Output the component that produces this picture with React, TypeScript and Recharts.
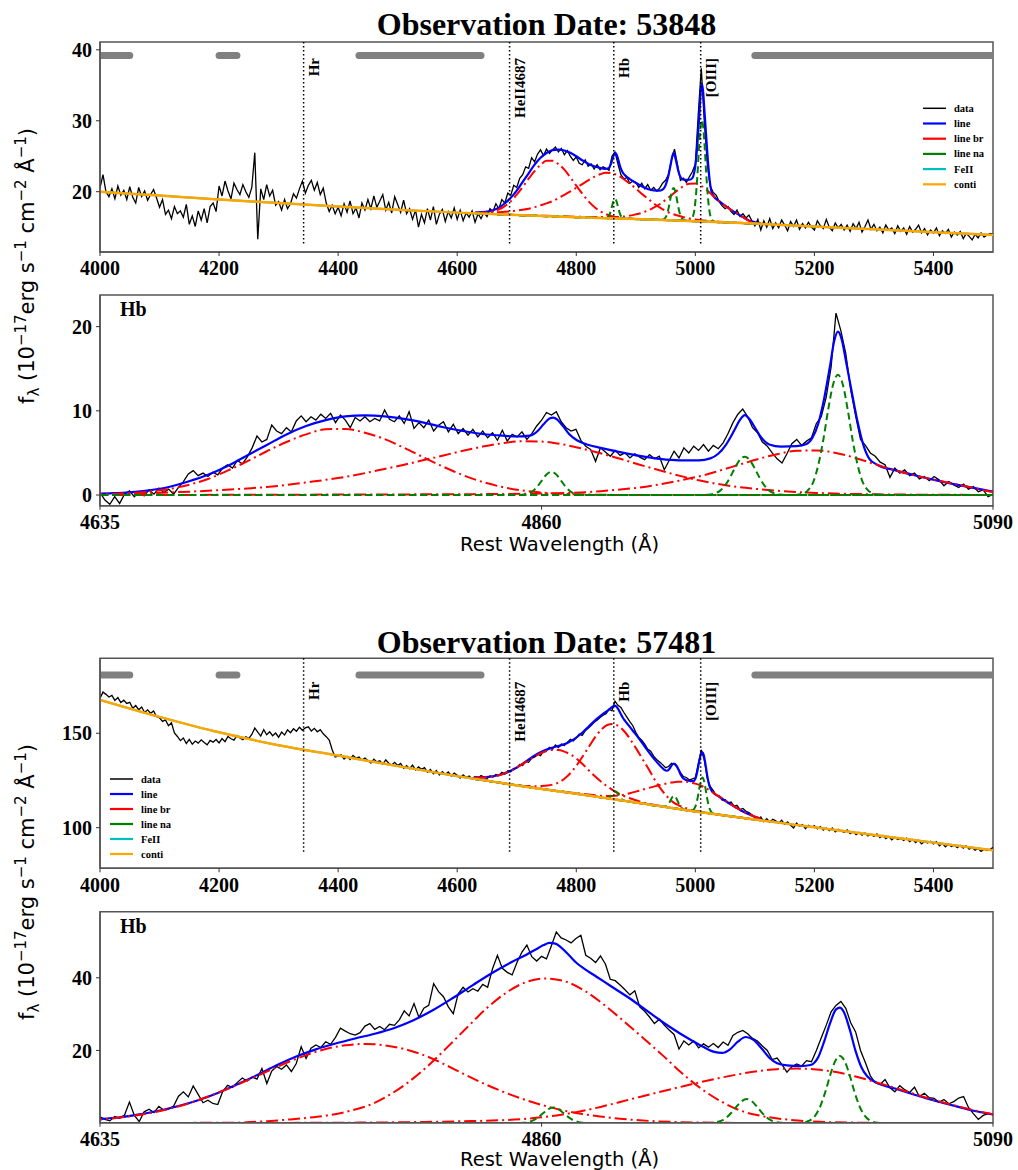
import React from 'react';
import { LineChart, Line, XAxis, YAxis, ReferenceLine, ReferenceArea } from 'recharts';

const SERIF = '"Liberation Serif", "Times New Roman", serif';
const SANS = '"DejaVu Sans", sans-serif';
const SPINE = '#555555';

// ---------------- wavelength grids / ticks ----------------
const FULL_START = 4000;
const FULL_STEP = 5;
const ZOOM_START = 4635;
const ZOOM_STEP = 2.5;
const fullTicks = [4000, 4200, 4400, 4600, 4800, 5000, 5200, 5400];
const zoomTicks = [4635, 4860, 5090];
const ticks53848 = [20, 30, 40];
const ticksLine53848 = [0, 10, 20];
const ticks57481 = [100, 150];
const ticksLine57481 = [20, 40];

// continuum windows (grey bars) and line markers
const contiWindows = [[4000, 4050], [4200, 4230], [4435, 4640], [5100, 5500]];
const lineMarkers = [4342, 4688, 4863, 5009];
const lineMarkerNames = ['Hr', 'HeII4687', 'Hb', '[OIII]'];

// ---------------- continuum ----------------
const contiWave = [4000, 4100, 4200, 4300, 4400, 4500, 4600, 4700, 4800, 4900, 5000, 5100, 5200, 5300, 5400, 5500];
const conti53848 = [20.0, 19.45, 18.9, 18.4, 17.9, 17.45, 17.05, 16.7, 16.4, 16.15, 15.85, 15.5, 15.1, 14.7, 14.3, 13.9];
const conti57481 = [167.7, 158.7, 150.5, 143.7, 138.2, 132.6, 127.3, 122.4, 118.0, 113.3, 108.6, 104.3, 100.2, 96.1, 92.1, 88.0];

// ---------------- observed spectra (4000-5500, step 5) ----------------
const flux53848 = [
  20.5, 22.4, 20.0, 19.3, 20.4, 19.0, 20.8, 19.5, 20.2, 18.9,
  20.7, 19.2, 18.4, 20.6, 19.3, 20.1, 18.8, 19.6, 20.3, 19.1,
  17.8, 18.9, 16.8, 17.4, 16.2, 17.9, 16.9, 17.3, 16.4, 18.2,
  15.4, 16.6, 15.1, 17.3, 16.0, 17.6, 15.6, 17.9, 18.4, 17.2,
  20.8, 19.4, 21.5, 20.1, 19.0, 21.2, 20.3, 19.6, 21.0, 20.0,
  19.2, 20.6, 25.5, 13.3, 20.4, 18.9, 21.0, 19.4, 20.2, 18.1,
  18.6, 17.4, 18.9, 17.6, 18.3, 19.7, 19.1, 20.4, 21.5, 19.8,
  20.9, 21.6, 20.2, 21.3, 19.6, 20.5, 18.4, 17.2, 18.1, 16.9,
  17.8, 16.6, 18.3, 17.1, 18.7, 16.9, 17.7, 16.3, 18.4, 17.4,
  18.9, 17.6, 19.4, 17.8, 18.7, 19.6, 17.4, 18.5, 17.0, 19.3,
  18.2, 17.1, 18.8, 16.9, 17.6, 16.1, 17.4, 15.0, 16.8, 15.6,
  17.6, 16.0, 17.9, 15.4, 16.8, 17.5, 15.8, 17.2, 16.3, 17.7,
  16.1, 17.4, 15.9, 17.0, 16.4, 17.3, 15.7, 16.9, 16.2, 17.1,
  16.5, 17.6, 17.2, 18.3, 17.6, 18.9, 18.4, 19.8, 19.5, 20.9,
  20.6, 21.9, 22.4, 23.5, 23.3, 24.8, 24.2, 25.3, 25.9, 25.1,
  26.0, 25.4, 25.9, 26.3, 25.6, 26.1, 25.2, 25.8, 25.0, 24.4,
  24.9, 24.0, 23.8, 24.5, 23.6, 23.9, 23.2, 23.8, 23.1, 23.5,
  23.3, 23.0, 25.0, 25.6, 23.9, 22.4, 21.8, 22.0, 21.2, 21.5,
  21.3, 20.6, 21.2, 20.4, 21.0, 20.2, 20.6, 20.1, 20.5, 21.2,
  21.6, 22.4, 24.5, 26.0, 23.8, 21.6, 21.9, 21.3, 22.1, 22.8,
  23.9, 31.0, 37.4, 30.0, 24.0, 20.8, 19.9, 19.5, 18.6, 18.0,
  17.6, 17.9, 17.2, 16.8, 17.4, 16.5, 16.9, 16.3, 16.7, 15.9,
  15.2, 16.1, 14.6, 15.9, 15.0, 16.2, 14.8, 15.6, 14.9, 16.0,
  15.3, 14.5, 15.8, 15.1, 16.0, 14.7, 15.5, 14.9, 15.7, 15.0,
  14.6, 15.9, 15.2, 14.8, 16.1, 15.0, 14.5, 15.6, 14.9, 15.4,
  14.6, 15.3, 14.4, 15.5, 14.8, 15.7, 14.3, 15.1, 16.0, 14.7,
  15.4, 14.5, 15.0, 14.2, 15.3, 14.6, 14.9, 14.1, 15.2, 14.4,
  14.9, 14.0, 15.1, 14.3, 14.7, 15.3, 14.2, 14.8, 13.9, 14.6,
  14.2, 14.9, 13.8, 14.5, 14.1, 14.7, 13.6, 14.3, 13.9, 14.4,
  13.4, 14.1, 13.7, 13.2, 14.0, 13.5, 14.2, 13.6, 13.9, 14.1,
  14.0,
];

const flux57481 = [
  168.5, 171.8, 170.6, 169.2, 170.1, 167.4, 168.9, 166.3, 167.5, 165.8,
  166.4, 163.2, 164.7, 162.5, 163.9, 161.0, 162.4, 160.6, 161.8, 158.9,
  158.2, 156.3, 157.1, 154.0, 155.6, 150.2, 148.3, 146.1, 147.5, 144.6,
  146.8, 144.2, 145.9, 144.8, 146.5, 145.1, 143.9, 146.2, 145.3, 146.7,
  144.9, 147.2, 145.6, 148.3, 147.1, 146.4, 148.8, 147.5, 146.6, 148.1,
  147.3, 149.4, 152.8, 150.6, 148.5, 151.9, 149.2, 150.8, 148.7, 150.1,
  147.9, 150.6, 149.1, 151.8, 150.3, 152.4, 151.1, 153.2, 151.6, 152.9,
  153.4, 151.2, 152.6, 150.8, 151.9, 149.7, 148.2, 146.4, 141.3, 137.5,
  137.9, 138.6, 136.4, 137.8, 136.1, 138.3, 136.9, 137.4, 135.8, 136.9,
  135.6, 134.2, 136.3, 134.8, 135.4, 133.6, 135.9, 134.1, 133.2, 134.6,
  132.9, 134.0, 131.5, 132.8, 131.2, 133.1, 130.6, 132.2, 130.9, 131.8,
  129.4, 130.8, 128.6, 130.3, 127.9, 129.7, 128.2, 129.5, 127.4, 128.9,
  127.8, 126.3, 128.0, 126.6, 127.4, 125.9, 127.1, 126.2, 127.6, 126.8,
  126.1, 127.4, 126.8, 128.2, 127.5, 129.3, 128.4, 130.2, 129.6, 131.4,
  131.6, 133.5, 133.0, 135.1, 134.6, 136.8, 137.4, 138.9, 138.2, 140.7,
  140.9, 142.6, 141.5, 143.8, 142.4, 144.3, 143.6, 145.2, 146.8, 145.9,
  147.4, 149.6, 148.9, 151.3, 152.6, 154.1, 155.8, 156.9, 158.3, 159.6,
  160.4, 162.7, 161.9, 167.0, 164.8, 163.7, 161.0, 158.6, 156.2, 154.0,
  150.5, 147.8, 146.3, 144.2, 141.6, 140.5, 137.9, 136.1, 134.8, 133.4,
  131.8, 132.4, 134.1, 133.5, 132.0, 129.2, 127.1, 126.6, 125.3, 125.8,
  126.4, 133.8, 141.2, 135.9, 126.4, 121.9, 119.8, 117.2, 116.9, 114.6,
  114.8, 113.2, 113.6, 111.4, 111.9, 109.6, 110.2, 108.7, 108.0, 106.9,
  105.4, 104.1, 105.6, 103.2, 104.8, 102.9, 104.5, 103.6, 102.4, 104.0,
  101.8, 103.1, 101.3, 99.9, 102.4, 100.8, 101.6, 99.5, 101.2, 100.3,
  101.0, 99.4, 100.6, 98.7, 99.8, 98.4, 99.9, 97.8, 99.1, 98.2,
  97.6, 98.8, 96.9, 97.9, 96.3, 97.5, 96.1, 97.2, 95.6, 96.5,
  95.4, 96.7, 94.8, 95.9, 94.2, 95.3, 93.6, 94.9, 93.8, 94.4,
  93.2, 94.5, 92.6, 93.8, 92.1, 93.3, 91.4, 92.7, 91.9, 92.8,
  91.4, 92.6, 90.4, 91.7, 89.9, 91.2, 90.1, 90.8, 89.4, 90.6,
  89.2, 90.4, 88.6, 89.5, 88.1, 89.0, 87.4, 88.6, 87.9, 88.5,
  89.5,
];

// ---------------- continuum-subtracted spectra (4635-5090, step 2.5) ----------------
const lineFlux53848 = [
  0.3, -0.6, -1.1, -0.2, -1.0, 0.1, 0.5, -0.2, 0.4, -0.1,
  0.6, 0.1, 0.8, 0.3, 0.7, 0.1, 0.9, 1.6, 2.5, 2.9,
  2.3, 2.6, 2.2, 2.7, 2.4, 3.2, 3.6, 3.2, 4.1, 3.7,
  4.5, 5.6, 7.0, 6.3, 6.6, 8.3, 7.6, 7.3, 8.0, 7.5,
  8.8, 9.4, 8.7, 9.3, 8.9, 9.6, 9.1, 9.7, 8.6, 9.5,
  8.9, 8.0, 9.2, 8.8, 9.3, 8.7, 9.1, 8.8, 10.1, 9.0,
  8.7, 9.4, 8.5, 9.9, 7.9, 8.6, 8.0, 8.9, 7.6, 8.3,
  8.7, 7.5, 8.4, 7.3, 7.9, 7.1, 7.8, 6.9, 7.6, 6.8,
  7.4, 6.5, 7.7, 6.4, 7.2, 6.9, 7.5, 6.6, 7.3, 8.2,
  8.9, 9.8, 9.5, 9.9, 8.7, 8.0, 7.6, 7.8, 6.5, 5.8,
  5.4, 4.0, 5.6, 5.1, 4.6, 5.3, 4.7, 5.0, 4.4, 4.9,
  4.5, 4.2, 4.8, 4.3, 4.6, 3.0, 4.1, 5.2, 4.4, 5.6,
  5.0, 5.8, 5.3, 6.0, 5.2, 5.9, 5.5, 6.2, 7.3, 8.6,
  9.6, 10.2, 9.3, 8.0, 7.4, 6.3, 5.8, 5.0, 4.3, 3.8,
  4.9, 6.1, 6.6, 5.9, 6.4, 6.8, 8.5, 9.3, 11.6, 15.2,
  21.6, 19.5, 16.8, 12.5, 9.4, 6.6, 5.9, 5.0, 4.6, 3.9,
  3.6, 2.1, 3.2, 2.6, 3.0, 2.3, 2.6, 1.9, 2.2, 1.7,
  2.2, 1.8, 1.1, 1.6, 1.2, 0.9, 1.3, 0.7, 1.0, 0.4,
  0.6, -0.2, 0.1,
];

const lineFlux57481 = [
  1.7, 1.0, 0.6, 1.8, 1.3, 2.2, 5.8, 2.1, 0.4, 3.1,
  3.8, 2.9, 4.6, 3.5, 3.9, 4.7, 7.4, 8.6, 7.2, 10.2,
  7.9, 5.6, 6.3, 5.4, 5.1, 8.7, 10.4, 9.8, 11.2, 12.4,
  11.6, 12.7, 12.1, 15.0, 10.9, 14.3, 15.6, 14.8, 16.0, 14.2,
  16.4, 21.0, 17.8, 20.6, 21.5, 20.8, 22.4, 21.7, 23.6, 26.1,
  25.3, 24.6, 24.2, 24.9, 26.7, 27.4, 25.8, 26.6, 25.7, 27.2,
  26.9, 28.4, 30.9, 29.5, 32.9, 29.1, 31.6, 32.4, 38.4, 36.2,
  34.8, 32.0, 30.1, 35.6, 37.4, 36.1, 37.0, 36.3, 38.2, 37.4,
  42.5, 46.2, 42.6, 41.5, 40.8, 44.3, 47.1, 49.0, 45.8, 44.6,
  45.9, 45.2, 48.8, 52.6, 51.0, 50.4, 49.6, 50.8, 51.7, 46.2,
  45.4, 44.2, 46.0, 43.8, 39.6, 39.2, 38.0, 36.7, 35.3, 36.4,
  32.0, 30.8, 29.2, 27.4, 28.6, 27.0, 25.6, 24.4, 20.4, 22.6,
  21.5, 22.6, 20.7, 21.8, 20.9, 21.9, 20.8, 22.3, 21.4, 24.1,
  25.0, 25.5, 24.6, 23.3, 22.6, 21.2, 20.0, 17.5, 17.9, 16.1,
  14.0, 15.5, 16.3, 15.7, 17.2, 16.9, 20.0, 23.5, 26.9, 30.6,
  32.4, 33.5, 31.6, 27.6, 25.1, 20.0, 16.6, 13.0, 11.1, 10.6,
  12.0, 9.7, 8.6, 10.3, 9.2, 8.4, 9.9, 7.3, 8.2, 7.0,
  6.8, 5.7, 6.5, 5.3, 5.9, 6.9, 7.3, 4.3, 2.6, 1.0,
  2.1, 2.6, 2.3,
];

// ---------------- fitted model components, [wavelength, flux above continuum] ----------------
const line53848 = [
  [4630, 0.12], [4640, 0.2], [4650, 0.32], [4660, 0.55], [4670, 0.95], [4680, 1.6], [4690, 2.4], [4700, 3.45],
  [4710, 4.7], [4720, 5.95], [4730, 7.2], [4740, 8.2], [4750, 8.9], [4760, 9.35], [4770, 9.45], [4780, 9.35],
  [4790, 9.05], [4800, 8.6], [4810, 8.05], [4820, 7.6], [4830, 7.25], [4840, 7.05], [4848, 6.95], [4854, 7.05],
  [4858, 7.6], [4861, 8.4], [4864, 9.1], [4866, 9.2], [4868, 8.95], [4871, 8.15], [4874, 7.25], [4878, 6.5],
  [4884, 5.95], [4890, 5.6], [4900, 5.1], [4910, 4.65], [4920, 4.3], [4930, 4.12], [4940, 4.12], [4946, 4.35],
  [4950, 4.9], [4954, 6.0], [4958, 7.6], [4961, 8.9], [4963.5, 9.5], [4966, 9.0], [4969, 7.9], [4972, 6.8],
  [4976, 6.0], [4982, 5.75], [4990, 5.8], [4995, 6.05], [4998, 6.8], [5001, 8.5], [5004, 11.5], [5007, 15.4],
  [5009, 18.2], [5011, 19.4], [5013, 18.4], [5015, 16.0], [5018, 12.3], [5021, 8.7], [5024, 5.9], [5027, 4.3],
  [5031, 3.6], [5040, 2.95], [5050, 2.35], [5060, 1.8], [5070, 1.3], [5080, 0.85], [5090, 0.4], [5100, 0.2], [5110, 0.08],
];
const broad1_53848 = [
  [4630, 0.05], [4640, 0.1], [4650, 0.2], [4660, 0.4], [4670, 0.7], [4680, 1.2], [4690, 1.9], [4700, 2.9],
  [4710, 4.0], [4720, 5.2], [4730, 6.3], [4740, 7.2], [4750, 7.8], [4760, 7.85], [4770, 7.4], [4780, 6.65],
  [4790, 5.6], [4800, 4.45], [4810, 3.35], [4820, 2.35], [4830, 1.55], [4840, 0.95], [4850, 0.55], [4860, 0.3],
  [4870, 0.15], [4880, 0.07], [4890, 0.03], [4900, 0.01], [4925, 0], [4950, 0], [4975, 0], [5000, 0], [5025, 0],
  [5050, 0], [5075, 0], [5110, 0],
];
const broad2_53848 = [
  [4630, 0.08], [4650, 0.15], [4670, 0.3], [4690, 0.5], [4710, 0.78], [4720, 0.95], [4730, 1.2], [4740, 1.5],
  [4750, 1.8], [4760, 2.15], [4770, 2.6], [4780, 3.1], [4790, 3.6], [4800, 4.15], [4810, 4.7], [4820, 5.25],
  [4830, 5.75], [4840, 6.15], [4850, 6.38], [4860, 6.35], [4870, 6.05], [4880, 5.55], [4890, 4.95], [4900, 4.3],
  [4910, 3.6], [4920, 2.95], [4930, 2.3], [4940, 1.75], [4950, 1.3], [4960, 0.95], [4970, 0.7], [4980, 0.5],
  [4990, 0.35], [5000, 0.25], [5020, 0.12], [5040, 0.06], [5060, 0.03], [5085, 0.01], [5110, 0],
];
const broad3_53848 = [
  [4630, 0], [4665, 0.01], [4700, 0.02], [4750, 0.05], [4800, 0.08], [4840, 0.12], [4860, 0.17], [4880, 0.3], [4890, 0.45],
  [4900, 0.65], [4910, 0.9], [4920, 1.25], [4930, 1.7], [4940, 2.2], [4950, 2.85], [4960, 3.55], [4970, 4.25],
  [4980, 4.85], [4990, 5.25], [5000, 5.3], [5010, 5.0], [5020, 4.4], [5030, 3.65], [5040, 2.95], [5050, 2.35],
  [5060, 1.8], [5070, 1.35], [5080, 0.85], [5090, 0.35], [5100, 0.15], [5110, 0.06],
];
const narrowHb_53848 = [
  [4630, 0], [4660, 0], [4690, 0], [4720, 0], [4750, 0], [4780, 0], [4810, 0], [4845, 0], [4850, 0.03],
  [4852.5, 0.12], [4855, 0.37], [4857.5, 0.9], [4860, 1.68], [4862.5, 2.44], [4865, 2.77], [4867.5, 2.44],
  [4870, 1.68], [4872.5, 0.9], [4875, 0.37], [4877.5, 0.12], [4880, 0.03], [4885, 0], [4920, 0], [4960, 0],
  [5000, 0], [5040, 0], [5075, 0], [5110, 0],
];
const narrow4959_53848 = [
  [4630, 0], [4660, 0], [4690, 0], [4720, 0], [4750, 0], [4780, 0], [4810, 0], [4840, 0], [4870, 0], [4905, 0],
  [4941, 0], [4946, 0.06], [4948.5, 0.2], [4951, 0.52], [4953.5, 1.14], [4956, 2.08], [4958.5, 3.21],
  [4961, 4.17], [4963.5, 4.55], [4966, 4.17], [4968.5, 3.21], [4971, 2.08], [4973.5, 1.14], [4976, 0.52],
  [4978.5, 0.2], [4981, 0.06], [4986, 0], [5020, 0], [5050, 0], [5080, 0], [5110, 0],
];
const narrow5007_53848 = [
  [4630, 0], [4660, 0], [4690, 0], [4720, 0], [4750, 0], [4780, 0], [4810, 0], [4840, 0], [4870, 0], [4900, 0],
  [4930, 0], [4960, 0], [4988, 0], [4993.5, 0.2], [4996, 0.63], [4998.5, 1.6], [5001, 3.6], [5003.5, 6.5],
  [5006, 10.1], [5008.5, 13.1], [5011, 14.3], [5013.5, 13.1], [5016, 10.1], [5018.5, 6.5], [5021, 3.6],
  [5023.5, 1.6], [5026, 0.63], [5028.5, 0.2], [5031, 0.05], [5036, 0], [5060, 0], [5085, 0], [5110, 0],
];

const line57481 = [
  [4630, 0.9], [4635, 1.1], [4645, 1.6], [4655, 2.4], [4665, 3.4], [4675, 4.7], [4685, 6.3], [4695, 8.3],
  [4705, 10.7], [4715, 13.2], [4725, 15.9], [4735, 18.3], [4745, 20.3], [4755, 21.9], [4765, 23.3], [4775, 24.6],
  [4785, 26.2], [4795, 28.4], [4805, 31.2], [4815, 34.5], [4825, 38.0], [4835, 41.4], [4845, 44.4], [4852, 46.3],
  [4857, 47.8], [4861, 49.0], [4864, 49.6], [4867, 49.4], [4870, 48.3], [4874, 46.2], [4878, 44.0], [4882, 42.4],
  [4888, 40.3], [4895, 37.8], [4905, 34.3], [4915, 30.4], [4925, 26.6], [4935, 23.2], [4942, 21.1], [4948, 19.6],
  [4952, 19.3], [4956, 20.3], [4960, 22.4], [4964, 23.7], [4968, 22.9], [4972, 20.6], [4976, 18.0], [4980, 16.5],
  [4985, 15.9], [4992, 15.7], [4997, 16.0], [5001, 18.2], [5004, 22.5], [5007, 27.5], [5010, 31.3], [5012, 31.8],
  [5014, 30.6], [5017, 25.8], [5020, 19.8], [5023, 15.3], [5026, 12.8], [5030, 11.3], [5040, 9.5], [5050, 7.8],
  [5060, 6.2], [5070, 4.8], [5080, 3.4], [5090, 2.4], [5100, 1.5], [5110, 0.9],
];
const broad1_57481 = [
  [4630, 0.75], [4640, 1.2], [4650, 1.85], [4660, 2.7], [4670, 3.9], [4680, 5.4], [4690, 7.3], [4700, 9.4],
  [4710, 11.75], [4720, 14.2], [4730, 16.6], [4740, 18.7], [4750, 20.4], [4760, 21.4], [4770, 21.8], [4780, 21.4],
  [4790, 20.4], [4800, 18.7], [4810, 16.3], [4820, 13.6], [4830, 11.0], [4840, 8.7], [4850, 6.7], [4860, 5.0],
  [4870, 3.6], [4880, 2.55], [4890, 1.8], [4900, 1.2], [4910, 0.75], [4920, 0.46], [4930, 0.27], [4940, 0.15],
  [4950, 0.08], [4970, 0.02], [5000, 0], [5030, 0], [5060, 0], [5085, 0], [5110, 0],
];
const broad2_57481 = [
  [4630, 0.02], [4665, 0.04], [4702, 0.08], [4722, 0.6], [4732, 1.0], [4742, 1.5], [4752, 2.2], [4762, 3.3], [4772, 4.9],
  [4782, 7.6], [4792, 11.2], [4802, 15.7], [4812, 20.9], [4822, 26.3], [4832, 31.6], [4842, 35.9], [4852, 38.8],
  [4862, 39.8], [4872, 39.0], [4882, 36.4], [4892, 32.5], [4902, 28.0], [4912, 23.3], [4922, 18.5], [4932, 13.5],
  [4942, 9.2], [4952, 5.8], [4962, 3.3], [4972, 1.95], [4982, 1.15], [4992, 0.65], [5002, 0.35], [5022, 0.1],
  [5042, 0.02], [5075, 0], [5110, 0],
];
const broad3_57481 = [
  [4630, 0], [4665, 0.01], [4700, 0.02], [4750, 0.08], [4780, 0.18], [4800, 0.3], [4820, 0.5], [4840, 0.8], [4850, 1.1],
  [4860, 1.6], [4870, 2.3], [4880, 3.25], [4890, 4.45], [4900, 5.8], [4910, 7.2], [4920, 8.55], [4930, 9.85],
  [4940, 11.15], [4950, 12.35], [4960, 13.4], [4970, 14.3], [4980, 14.85], [4990, 15.0], [5000, 14.75],
  [5010, 14.05], [5020, 12.8], [5030, 11.3], [5040, 9.7], [5050, 8.0], [5060, 6.35], [5070, 4.9], [5080, 3.55],
  [5090, 2.45], [5100, 1.5], [5110, 0.9],
];
const narrowHb_57481 = [
  [4630, 0], [4660, 0], [4690, 0], [4720, 0], [4750, 0], [4780, 0], [4810, 0], [4846, 0], [4848.5, 0.03],
  [4851, 0.1], [4853.5, 0.33], [4856, 0.82], [4858.5, 1.69], [4861, 2.83], [4863.5, 3.87], [4866, 4.3],
  [4868.5, 3.87], [4871, 2.83], [4873.5, 1.69], [4876, 0.82], [4878.5, 0.33], [4881, 0.1], [4883.5, 0.03],
  [4888, 0], [4920, 0], [4960, 0], [5000, 0], [5040, 0], [5075, 0], [5110, 0],
];
const narrow4959_57481 = [
  [4630, 0], [4660, 0], [4690, 0], [4720, 0], [4750, 0], [4780, 0], [4810, 0], [4840, 0], [4870, 0], [4905, 0],
  [4944, 0], [4947, 0.09], [4949.5, 0.29], [4952, 0.75], [4954.5, 1.65], [4957, 3.02], [4959.5, 4.66],
  [4962, 6.05], [4964.5, 6.6], [4967, 6.05], [4969.5, 4.66], [4972, 3.02], [4974.5, 1.65], [4977, 0.75],
  [4979.5, 0.29], [4982, 0.09], [4986, 0], [5020, 0], [5050, 0], [5080, 0], [5110, 0],
];
const narrow5007_57481 = [
  [4630, 0], [4660, 0], [4690, 0], [4720, 0], [4750, 0], [4780, 0], [4810, 0], [4840, 0], [4870, 0], [4900, 0],
  [4930, 0], [4960, 0], [4991, 0], [4994.5, 0.25], [4997, 0.81], [4999.5, 2.11], [5002, 4.62], [5004.5, 8.45],
  [5007, 13.1], [5009.5, 16.95], [5012, 18.5], [5014.5, 16.95], [5017, 13.1], [5019.5, 8.45], [5022, 4.62],
  [5024.5, 2.11], [5027, 0.81], [5029.5, 0.25], [5033, 0], [5060, 0], [5085, 0], [5110, 0],
];

// ---------------- helpers to build series tables ----------------
type Pt = { x: number; y: number };
const toGrid = (start: number, step: number, ys: number[]): Pt[] => ys.map((y, i) => ({ x: start + i * step, y }));
const toPts = (pairs: number[][]): Pt[] => pairs.map(([x, y]) => ({ x, y }));
const contiAt = (vals: number[], x: number): number => {
  for (let i = 0; i < contiWave.length - 1; i++) {
    if (x <= contiWave[i + 1]) {
      const t = (x - contiWave[i]) / (contiWave[i + 1] - contiWave[i]);
      return vals[i] + t * (vals[i + 1] - vals[i]);
    }
  }
  return vals[vals.length - 1];
};
const onConti = (pairs: number[][], vals: number[]): Pt[] => pairs.map(([x, y]) => ({ x, y: y + contiAt(vals, x) }));

type Spec = {
  top: number;
  height: number;
  mTop: number;
  mBottom: number;
  xDomain: [number, number];
  xTicks: number[];
  yDomain: [number, number];
  yTicks: number[];
  data: Pt[];
  line: Pt[];
  broad: Pt[][];
  narrow: Pt[][];
  conti?: Pt[];
  barY?: number;
  markerBottom?: number;
  markerLabelDy?: number;
};

const TICK = { fill: '#000', fontFamily: SERIF, fontWeight: 'bold', fontSize: 20 } as any;

function markerLabel(text: string, dy: number) {
  return (props: any) => {
    const vb = props.viewBox || {};
    const x = (vb.x ?? 0) + 15.5;
    const y = (vb.y ?? 0) + dy;
    return (
      <text transform={`translate(${x},${y}) rotate(-90)`} textAnchor="end" fontFamily={SERIF}
        fontWeight="bold" fontSize={15} fill="#000">{text}</text>
    );
  };
}

function Panel({ spec }: { spec: Spec }) {
  const [y0, y1] = spec.yDomain;
  return (
    <div style={{ position: 'absolute', left: 0, top: spec.top, width: 1018, height: spec.height }}>
      <LineChart width={1018} height={spec.height}
        margin={{ top: spec.mTop, right: 25, bottom: spec.mBottom, left: 40 }}>
        <XAxis type="number" dataKey="x" domain={spec.xDomain} ticks={spec.xTicks} interval={0} allowDataOverflow
          height={30} tickSize={4} tickMargin={5} tick={TICK}
          axisLine={{ stroke: SPINE, strokeWidth: 1.5 }} tickLine={{ stroke: '#333', strokeWidth: 1 }} />
        <YAxis type="number" domain={spec.yDomain} ticks={spec.yTicks} interval={0} allowDataOverflow width={60}
          tickSize={4} tickMargin={4} tick={TICK}
          axisLine={{ stroke: SPINE, strokeWidth: 1.5 }} tickLine={{ stroke: '#333', strokeWidth: 1 }} />

        <Line data={spec.data} dataKey="y" type="linear" stroke="#000" strokeWidth={1.3} dot={false}
          isAnimationActive={false} />
        <Line data={spec.line} dataKey="y" type="monotone" stroke="#0000ff" strokeWidth={2.2} dot={false}
          isAnimationActive={false} />
        {spec.broad.map((b, i) => (
          <Line key={'b' + i} data={b} dataKey="y" type="monotone" stroke="#ff0000" strokeWidth={2}
            strokeDasharray="12 4 2 4" dot={false} isAnimationActive={false} />
        ))}
        {spec.narrow.map((n, i) => (
          <Line key={'n' + i} data={n} dataKey="y" type="monotone" stroke="#008000" strokeWidth={2}
            strokeDasharray="7 4" dot={false} isAnimationActive={false} />
        ))}
        {spec.conti && (
          <Line data={spec.conti} dataKey="y" type="monotone" stroke="#00bfbf" strokeWidth={2} dot={false}
            isAnimationActive={false} />
        )}
        {spec.conti && (
          <Line data={spec.conti} dataKey="y" type="monotone" stroke="#ffa500" strokeWidth={2.5} dot={false}
            isAnimationActive={false} />
        )}
        {spec.barY !== undefined && contiWindows.map((w, i) => (
          <Line key={'w' + i} data={[{ x: w[0], y: spec.barY }, { x: w[1], y: spec.barY }]} dataKey="y"
            type="linear" stroke="#808080" strokeWidth={7} strokeLinecap="round" dot={false}
            isAnimationActive={false} />
        ))}
        {spec.markerBottom !== undefined && lineMarkers.map((m, i) => (
          <ReferenceLine key={'m' + i} segment={[{ x: m, y: y1 }, { x: m, y: spec.markerBottom as number }]}
            stroke="#000" strokeWidth={1.5} strokeDasharray="1.5 2.5"
            label={markerLabel(lineMarkerNames[i], spec.markerLabelDy || 16)} />
        ))}
        <ReferenceArea x1={spec.xDomain[0]} x2={spec.xDomain[1]} y1={y0} y2={y1} fill="none" fillOpacity={0}
          stroke={SPINE} strokeWidth={1.5} ifOverflow="extendDomain" />
      </LineChart>
    </div>
  );
}

const spec1: Spec = {
  top: 0, height: 290, mTop: 42, mBottom: 8,
  xDomain: [4000, 5500], xTicks: fullTicks, yDomain: [11.5, 41.1], yTicks: ticks53848,
  data: toGrid(FULL_START, FULL_STEP, flux53848),
  line: onConti(line53848, conti53848),
  broad: [onConti(broad1_53848, conti53848), onConti(broad2_53848, conti53848), onConti(broad3_53848, conti53848)],
  narrow: [onConti(narrowHb_53848, conti53848), onConti(narrow4959_53848, conti53848), onConti(narrow5007_53848, conti53848)],
  conti: toGrid(4000, 100, conti53848),
  barY: 39.2, markerBottom: 12.7, markerLabelDy: 16,
};
const spec2: Spec = {
  top: 280, height: 280, mTop: 15, mBottom: 24.3,
  xDomain: [4635, 5090], xTicks: zoomTicks, yDomain: [-1.27, 23.76], yTicks: ticksLine53848,
  data: toGrid(ZOOM_START, ZOOM_STEP, lineFlux53848),
  line: toPts(line53848),
  broad: [toPts(broad1_53848), toPts(broad2_53848), toPts(broad3_53848)],
  narrow: [toPts(narrowHb_53848), toPts(narrow4959_53848), toPts(narrow5007_53848)],
};
const spec3: Spec = {
  top: 620, height: 290, mTop: 38.3, mBottom: 11.7,
  xDomain: [4000, 5500], xTicks: fullTicks, yDomain: [78.5, 189.7], yTicks: ticks57481,
  data: toGrid(FULL_START, FULL_STEP, flux57481),
  line: onConti(line57481, conti57481),
  broad: [onConti(broad1_57481, conti57481), onConti(broad2_57481, conti57481), onConti(broad3_57481, conti57481)],
  narrow: [onConti(narrowHb_57481, conti57481), onConti(narrow4959_57481, conti57481), onConti(narrow5007_57481, conti57481)],
  conti: toGrid(4000, 100, conti57481),
  barY: 180.9, markerBottom: 86.6, markerLabelDy: 23.4,
};
const spec4: Spec = {
  top: 900, height: 270, mTop: 11.7, mBottom: 17.3,
  xDomain: [4635, 5090], xTicks: zoomTicks, yDomain: [0.1, 58.2], yTicks: ticksLine57481,
  data: toGrid(ZOOM_START, ZOOM_STEP, lineFlux57481),
  line: toPts(line57481),
  broad: [toPts(broad1_57481), toPts(broad2_57481), toPts(broad3_57481)],
  narrow: [toPts(narrowHb_57481), toPts(narrow4959_57481), toPts(narrow5007_57481)],
};

const legendNames = ['data', 'line', 'line br', 'line na', 'FeII', 'conti'];
const legendColors = ['#000000', '#0000ff', '#ff0000', '#008000', '#00bfbf', '#ffa500'];

function LegendBox({ x, y, step }: { x: number; y: number; step: number }) {
  return (
    <g>
      {legendNames.map((n, i) => (
        <g key={n}>
          <line x1={x} x2={x + 23} y1={y + i * step} y2={y + i * step} stroke={legendColors[i]}
            strokeWidth={i === 0 ? 1.5 : 2.2} />
          <text x={x + 31} y={y + i * step + 3.5} fontFamily={SERIF} fontWeight="bold" fontSize={10.5} fill="#000">{n}</text>
        </g>
      ))}
    </g>
  );
}

function YLabel({ cx, cy }: { cx: number; cy: number }) {
  return (
    <text transform={`translate(${cx},${cy}) rotate(-90)`} textAnchor="middle" fontFamily={SANS} fontSize={21} fill="#000">
      <tspan>f</tspan>
      <tspan dy={5} fontSize={15}>λ</tspan>
      <tspan dy={-5}> (10</tspan>
      <tspan dy={-8} fontSize={15}>−17</tspan>
      <tspan dy={8}>erg s</tspan>
      <tspan dy={-8} fontSize={15}>−1</tspan>
      <tspan dy={8}> cm</tspan>
      <tspan dy={-8} fontSize={15}>−2</tspan>
      <tspan dy={8}> Å</tspan>
      <tspan dy={-8} fontSize={15}>−1</tspan>
      <tspan dy={8}>)</tspan>
    </text>
  );
}

export default function App() {
  return (
    <div style={{ position: 'absolute', left: 0, top: 0, width: 1018, height: 1170, background: '#fff' }}>
      <Panel spec={spec1} />
      <Panel spec={spec2} />
      <Panel spec={spec3} />
      <Panel spec={spec4} />
      <svg width={1018} height={1170} style={{ position: 'absolute', left: 0, top: 0, pointerEvents: 'none' }}>
        <text x={546.5} y={35} textAnchor="middle" fontFamily={SERIF} fontWeight="bold" fontSize={32} fill="#000">
          Observation Date: 53848
        </text>
        <text x={546.5} y={653} textAnchor="middle" fontFamily={SERIF} fontWeight="bold" fontSize={32} fill="#000">
          Observation Date: 57481
        </text>
        <YLabel cx={34} cy={266} />
        <YLabel cx={34} cy={882} />
        <text x={460} y={551} fontFamily={SANS} fontSize={19.5} fill="#000">Rest Wavelength (Å)</text>
        <text x={460} y={1166} fontFamily={SANS} fontSize={19.5} fill="#000">Rest Wavelength (Å)</text>
        <text x={120} y={316} fontFamily={SERIF} fontWeight="bold" fontSize={20} fill="#000">Hb</text>
        <text x={120} y={933} fontFamily={SERIF} fontWeight="bold" fontSize={20} fill="#000">Hb</text>
        <LegendBox x={923} y={108.3} step={15.2} />
        <LegendBox x={110} y={779} step={15} />
      </svg>
    </div>
  );
}
